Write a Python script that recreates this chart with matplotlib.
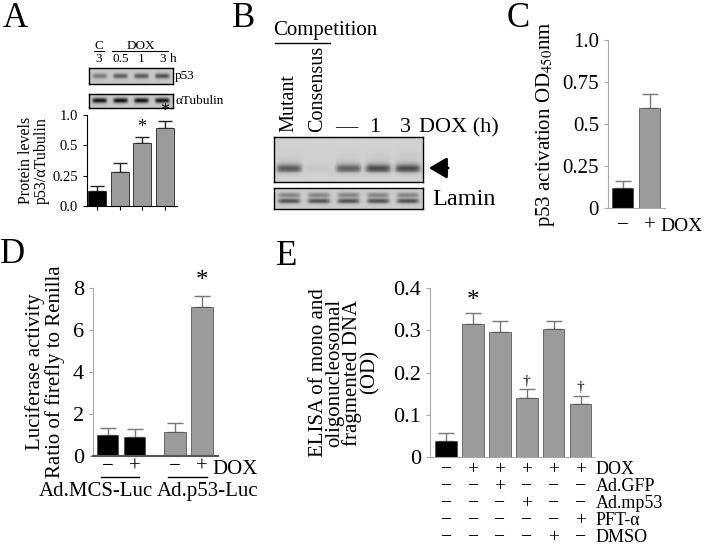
#!/usr/bin/env python
import numpy as np
import matplotlib
matplotlib.use('Agg')
import matplotlib.pyplot as plt
from matplotlib.patches import FancyArrowPatch
from matplotlib.transforms import blended_transform_factory

plt.rcParams['font.family'] = ['Liberation Serif', 'DejaVu Serif']
plt.rcParams['mathtext.fontset'] = 'stix'

W, H = 704, 546
GRAY = '#9b9b9b'
AXGRAY = '#a8a8a8'

# ---- data ----
# A: p53/aTubulin (plotted on the figure's stretched axis: ticks 0.0, 0.25, 0.5, 1.0)
a_ticks = ['0.0', '0.25', '0.5', '1.0']
a_vals = [0.48, 1.11, 2.09, 2.58]
a_err = [0.19, 0.31, 0.19, 0.23]
a_lanes_top = ['3', '0.5', '1', '3']
a_p53_bands = [0.55, 0.75, 0.8, 0.85]
a_tub_bands = [0.95, 0.95, 0.95, 0.95]

# B: EMSA
b_lanes = ['Mutant', 'Consensus', '\u2014', '1', '3']
b_emsa_bands = [0.85, 0.08, 0.8, 0.95, 0.95]
b_lamin_bands = [0.8, 0.8, 0.8, 0.8, 0.8]

# C: p53 activation
c_labels = ['\u2212', '+']
c_vals = [0.12, 0.595]
c_err = [0.04, 0.085]

# D: luciferase
d_labels = ['\u2212', '+', '\u2212', '+']
d_vals = [1.0, 0.9, 1.14, 7.1]
d_err = [0.33, 0.4, 0.43, 0.5]
d_groups = ['Ad.MCS-Luc', 'Ad.p53-Luc']

# E: ELISA
e_vals = [0.038, 0.315, 0.295, 0.14, 0.303, 0.126]
e_err = [0.019, 0.025, 0.027, 0.02, 0.02, 0.019]
e_rows = ['DOX', 'Ad.GFP', 'Ad.mp53', 'PFT-\u03b1', 'DMSO']
e_table = [['\u2212', '+', '+', '+', '+', '+'],
           ['\u2212', '\u2212', '+', '\u2212', '\u2212', '\u2212'],
           ['\u2212', '\u2212', '\u2212', '+', '\u2212', '\u2212'],
           ['\u2212', '\u2212', '\u2212', '\u2212', '\u2212', '+'],
           ['\u2212', '\u2212', '\u2212', '\u2212', '+', '\u2212']]

fig = plt.figure(figsize=(W / 100, H / 100), dpi=100)


def px_axes(x0, y0, x1, y1):
    return fig.add_axes([x0 / W, 1 - y1 / H, (x1 - x0) / W, (y1 - y0) / H])


def ftext(x, y, s, **kw):
    fig.text(x / W, 1 - y / H, s, **kw)


def fline(x0, x1, y, lw=1.0):
    fig.add_artist(plt.Line2D([x0 / W, x1 / W], [1 - y / H, 1 - y / H],
                              color='black', lw=lw, transform=fig.transFigure))


def blot(ax, bands, rows, bg=0.72, smear=0.0, lane_w=0.7):
    # build a band image from lane intensities
    nx, ny = 200, 60
    xs = np.linspace(0, len(bands), nx)
    ys = np.linspace(0, 1, ny)
    img = np.full((ny, nx), bg)
    for i, b in enumerate(bands):
        cx = i + 0.5
        prof = np.exp(-((xs - cx) / (lane_w / 2)) ** 6)
        for r, sig, k in rows:
            img -= k * b * np.outer(np.exp(-((ys - r) / sig) ** 2), prof)
        if smear:
            img -= smear * b * np.outer(np.clip((ys - 0.15) / 0.6, 0, 1) ** 2 * (ys < 0.78), prof)
    ax.imshow(np.clip(img, 0, 1), cmap='gray', vmin=0, vmax=1, aspect='auto',
              extent=[0, len(bands), 1, 0], interpolation='bilinear')
    ax.set_xticks([])
    ax.set_yticks([])
    for s in ax.spines.values():
        s.set_linewidth(1.0)


def style_axis(ax, ycolor, xcolor):
    ax.spines['top'].set_visible(False)
    ax.spines['right'].set_visible(False)
    ax.spines['left'].set_color(ycolor)
    ax.spines['bottom'].set_color(xcolor)
    ax.tick_params(axis='y', colors=ycolor, length=3, labelcolor='black')
    ax.tick_params(axis='x', colors=xcolor, length=0, labelcolor='black')


# ---------------- Panel A ----------------
ftext(3, 27, 'A', fontsize=25)
ax = px_axes(89, 68, 173, 84)
blot(ax, a_p53_bands, [(0.5, 0.16, 0.55)], bg=0.78)
ax = px_axes(89, 94, 173, 108)
blot(ax, a_tub_bands, [(0.5, 0.17, 0.75)], bg=0.78)
ftext(175, 76, 'p53', fontsize=9.5, va='center')
ftext(175, 101, '\u03b1Tubulin', fontsize=9.5, va='center')
lane_x = [99, 120.5, 141.5, 162.5]
ftext(99, 49, 'C', fontsize=9.5, ha='center')
ftext(141, 49, 'DOX', fontsize=9.5, ha='center')
fline(94, 104, 51, 0.8)
fline(112, 168, 51, 0.8)
for xx, s in zip(lane_x, a_lanes_top):
    ftext(xx, 62, s, fontsize=9.5, ha='center')
ftext(170, 62, 'h', fontsize=9.5)

ax = px_axes(87, 115, 177, 206)
xa = np.arange(len(a_vals))
ax.errorbar(xa, a_vals, yerr=[np.zeros(4), a_err], fmt='none', ecolor='#222222',
            elinewidth=1, capsize=5, zorder=1)
ax.bar(xa, a_vals, width=0.8, color=['black', GRAY, GRAY, GRAY],
       edgecolor='#222222', linewidth=0.6, zorder=2)
ax.set_ylim(0, 3)
ax.set_xlim(-0.45, 3.55)
ax.set_yticks(range(4))
ax.set_yticklabels(a_ticks, fontsize=10.5)
ax.set_xticks(xa)
ax.set_xticklabels([])
style_axis(ax, 'black', 'black')
ax.tick_params(axis='x', length=3, direction='out')
for i in (2, 3):
    ax.text(xa[i], a_vals[i] + a_err[i] + 0.03, '*', ha='center', va='bottom', fontsize=13)
ax.set_ylabel('Protein levels\np53/\u03b1Tubulin', fontsize=11.5, linespacing=0.95, labelpad=2)

# ---------------- Panel B ----------------
ftext(232, 27, 'B', fontsize=25)
ftext(325, 35, 'Competition', fontsize=15, ha='center', va='baseline')
fline(275, 330, 43, 1.0)
ax = px_axes(274, 137, 423, 182)
blot(ax, b_emsa_bands, [(0.7, 0.09, 0.45)], bg=0.82, smear=0.12, lane_w=0.85)
ax = px_axes(274, 188, 423, 209)
blot(ax, b_lamin_bands, [(0.33, 0.12, 0.35), (0.62, 0.12, 0.6)], bg=0.8, lane_w=0.75)
b_x = [289, 318, 346, 375, 405]
for xx, s in zip(b_x[:2], b_lanes[:2]):
    ftext(xx, 132, s, fontsize=14.5, rotation=90, ha='center', va='bottom')
for xx, s in zip(b_x[2:], b_lanes[2:]):
    ftext(xx, 132, s, fontsize=16, ha='center', va='baseline')
ftext(419, 132, 'DOX (h)', fontsize=16, va='baseline')
fig.add_artist(FancyArrowPatch((451 / W, 1 - 168 / H), (426 / W, 1 - 168 / H),
                               transform=fig.transFigure, arrowstyle='-|>,head_length=0.6,head_width=0.35',
                               mutation_scale=18, color='black', lw=2))
ftext(432, 205, 'Lamin', fontsize=17.5, va='baseline')

# ---------------- Panel C ----------------
ftext(507, 27, 'C', fontsize=25)
ax = px_axes(608, 40, 665, 208)
xc = np.arange(2)
ax.errorbar(xc, c_vals, yerr=[np.zeros(2), c_err], fmt='none', ecolor='#777777',
            elinewidth=1, capsize=6, zorder=1)
ax.bar(xc, c_vals, width=0.77, color=['black', GRAY], edgecolor='#444444', linewidth=0.5, zorder=2)
ax.set_ylim(0, 1.0)
ax.set_xlim(-0.53, 1.55)
ax.set_yticks([0, 0.25, 0.5, 0.75, 1.0])
ax.set_yticklabels(['0', '0.25', '0.5', '0.75', '1.0'], fontsize=15)
ax.set_xticks(xc)
ax.set_xticklabels(c_labels, fontsize=15)
style_axis(ax, AXGRAY, AXGRAY)
ax.tick_params(axis='x', pad=6)
ftext(660, 231, 'DOX', fontsize=14)
ax.set_ylabel('p53 activation OD$_{450}$nm', fontsize=15, labelpad=4)

# ---------------- Panel D ----------------
ftext(0, 263, 'D', fontsize=25)
ax = px_axes(93, 288, 218, 456)
xd = np.array([0, 1, 2.5, 3.5])
ax.errorbar(xd, d_vals, yerr=[np.zeros(4), d_err], fmt='none', ecolor='#777777',
            elinewidth=1, capsize=6, zorder=1)
ax.bar(xd, d_vals, width=0.8, color=['black', 'black', GRAY, GRAY],
       edgecolor='#444444', linewidth=0.5, zorder=2)
ax.set_ylim(0, 8)
ax.set_xlim(-0.54, 4.09)
ax.set_yticks([0, 2, 4, 6, 8])
ax.set_yticklabels(['0', '2', '4', '6', '8'], fontsize=16)
ax.set_xticks(xd)
ax.set_xticklabels(d_labels, fontsize=15)
style_axis(ax, AXGRAY, '#555555')
ax.spines['bottom'].set_linewidth(1.5)
ax.tick_params(axis='x', pad=1)
ax.text(xd[3], d_vals[3] + d_err[3] + 0.2, '*', ha='center', va='bottom', fontsize=18)
ftext(212, 474, 'DOX', fontsize=15)
fline(101, 139, 477, 1.0)
fline(168, 207, 477, 1.0)
ftext(96, 496, d_groups[0], fontsize=15, ha='center', va='baseline')
ftext(208, 496, d_groups[1], fontsize=15, ha='center', va='baseline')
ax.set_ylabel('Luciferase activity\nRatio of firefly to Renilla', fontsize=15,
              linespacing=1.0, labelpad=6)

# ---------------- Panel E ----------------
ftext(276, 265, 'E', fontsize=25)
ax = px_axes(430, 288, 594, 457)
xe = np.arange(len(e_vals))
ax.errorbar(xe, e_vals, yerr=[np.zeros(6), e_err], fmt='none', ecolor='#777777',
            elinewidth=1, capsize=6, zorder=1)
ax.bar(xe, e_vals, width=0.8, color=['black'] + [GRAY] * 5,
       edgecolor='#444444', linewidth=0.5, zorder=2)
ax.set_ylim(0, 0.4)
ax.set_xlim(-0.6, 5.5)
ax.set_yticks([0, 0.1, 0.2, 0.3, 0.4])
ax.set_yticklabels(['0', '0.1', '0.2', '0.3', '0.4'], fontsize=16)
ax.set_xticks([])
style_axis(ax, AXGRAY, AXGRAY)
ax.text(xe[1], e_vals[1] + e_err[1] + 0.004, '*', ha='center', va='bottom', fontsize=18)
for i in (3, 5):
    ax.text(xe[i], e_vals[i] + e_err[i] + 0.003, '\u2020', ha='center', va='bottom', fontsize=11)
ax.set_ylabel('ELISA of mono and\noligonucleosomal\nfragmented DNA\n(OD)', fontsize=15,
              linespacing=0.85, labelpad=10)
tr = blended_transform_factory(ax.transData, fig.transFigure)
row_y = [474, 491, 508, 525, 542]
for r, (name, cells) in enumerate(zip(e_rows, e_table)):
    yy = 1 - row_y[r] / H
    for i, s in enumerate(cells):
        ax.text(xe[i], yy, s, transform=tr, ha='center', va='baseline', fontsize=14)
    fig.text(596 / W, yy, name, ha='left', va='baseline', fontsize=13)

fig.savefig('out.png', dpi=100)
